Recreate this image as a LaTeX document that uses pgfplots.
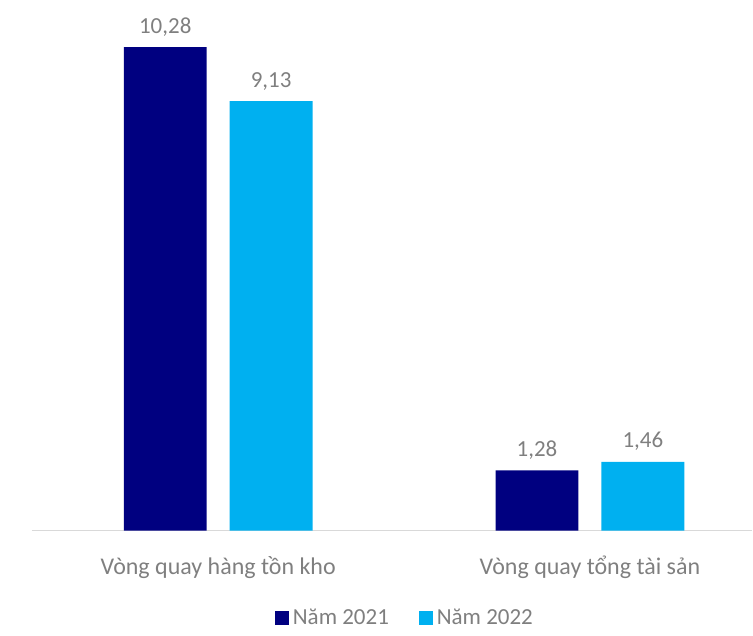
\documentclass[border=0pt]{standalone}
\usepackage{pgfplots}
\pgfplotsset{compat=1.18}
\usepackage{fontspec}
\setmainfont{Carlito}
\definecolor{navy}{HTML}{000080}
\definecolor{sky}{HTML}{00B0F0}
\definecolor{txt}{HTML}{7F7F7F}
\definecolor{axl}{HTML}{D9D9D9}
\begin{document}
\begin{tikzpicture}
\begin{axis}[
  at={(16pt,47pt)}, anchor=south west,
  scale only axis,
  width=360.5pt, height=265.5pt,
  xmin=-0.501, xmax=1.437,
  ymin=0, ymax=11.28,
  axis y line=none,
  axis x line*=bottom,
  x axis line style={axl, line width=0.6pt, -},
  xtick={0,1},
  xticklabels={Vòng quay hàng tồn kho, Vòng quay tổng tài sản},
  xtick style={draw=none},
  xticklabel style={font=\fontsize{12}{14}\selectfont, text=txt, yshift=-5pt},
  ybar, bar width=41.5pt,
  point meta=explicit symbolic,
  nodes near coords,
  nodes near coords style={font=\fontsize{11.5}{13}\selectfont, text=txt, anchor=south, yshift=2pt},
  legend style={at={(axis description cs:0.519,-0.165)}, anchor=center, draw=none,
    legend columns=2, font=\fontsize{11.5}{13}\selectfont, text=txt,
    /tikz/every even column/.append style={column sep=13pt}},
]
\addplot[fill=navy, draw=none, bar shift=-26.5pt,
  legend image code/.code={\fill[navy] (0pt,-3.5pt) rectangle (7pt,3.5pt);}]
  coordinates {(0,10.28) [10,28] (1,1.28) [1,28]};
\addplot[fill=sky, draw=none, bar shift=26.5pt,
  legend image code/.code={\fill[sky] (0pt,-3.5pt) rectangle (7pt,3.5pt);}]
  coordinates {(0,9.13) [9,13] (1,1.46) [1,46]};
\legend{Năm 2021, Năm 2022}
\end{axis}
\useasboundingbox (0,0) rectangle (376.5pt,312.5pt);
\end{tikzpicture}
\end{document}
